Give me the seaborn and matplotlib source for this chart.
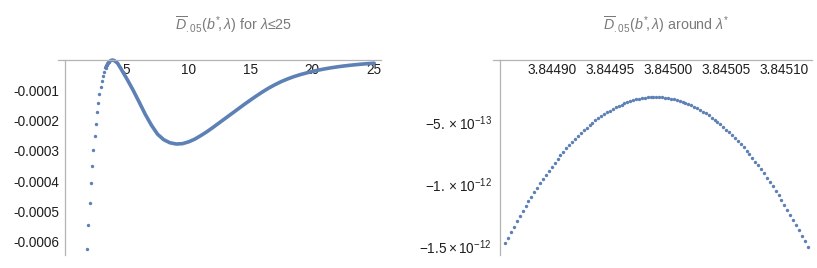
import matplotlib
matplotlib.use("Agg")
import numpy as np
import pandas as pd
import matplotlib.pyplot as plt
from matplotlib.ticker import MultipleLocator
import seaborn as sns

# left panel: sparse samples on the steep rise (step 0.1 in lambda)
lam_dots = [1.8, 1.9, 2.0, 2.1, 2.2, 2.3, 2.4, 2.5, 2.6, 2.7,
            2.8, 2.9, 3.0, 3.1, 3.2, 3.3, 3.4, 3.5, 3.6]
d_dots = [-6.22e-4, -5.43e-4, -4.71e-4, -4.06e-4, -3.48e-4, -2.97e-4, -2.51e-4,
          -2.10e-4, -1.73e-4, -1.41e-4, -1.13e-4, -0.90e-4, -0.70e-4, -0.52e-4,
          -0.38e-4, -0.26e-4, -0.17e-4, -0.10e-4, -0.05e-4]

# left panel: dense part, the points merge into a thick curve
lam_curve = [3.3, 3.5, 3.7, 3.85, 4.0, 4.25, 4.5, 4.75, 5.0, 5.5, 6.0, 6.5,
             7.0, 7.5, 8.0, 8.5, 9.0, 9.5, 10.0, 10.5, 11.0, 11.5, 12.0, 12.5,
             13.0, 13.5, 14.0, 14.5, 15.0, 15.5, 16.0, 16.5, 17.0, 17.5, 18.0,
             18.5, 19.0, 19.5, 20.0, 20.5, 21.0, 21.5, 22.0, 22.5, 23.0, 23.5,
             24.0, 24.5, 25.0]
d_curve = [-0.26e-4, -0.10e-4, -0.02e-4, 0.0, -0.02e-4, -0.10e-4, -0.26e-4,
           -0.44e-4, -0.61e-4, -0.98e-4, -1.38e-4, -1.79e-4, -2.15e-4, -2.45e-4,
           -2.63e-4, -2.73e-4, -2.77e-4, -2.76e-4, -2.70e-4, -2.61e-4, -2.49e-4,
           -2.36e-4, -2.215e-4, -2.065e-4, -1.915e-4, -1.765e-4, -1.615e-4,
           -1.465e-4, -1.32e-4, -1.18e-4, -1.045e-4, -0.92e-4, -0.81e-4, -0.71e-4,
           -0.625e-4, -0.55e-4, -0.485e-4, -0.43e-4, -0.378e-4, -0.333e-4,
           -0.293e-4, -0.258e-4, -0.227e-4, -0.20e-4, -0.176e-4, -0.155e-4,
           -0.136e-4, -0.12e-4, -0.105e-4]

# right panel: lambda = zoom_center + offset*1e-6, D in units of 1e-13
zoom_center = 3.84499
zoom_dlam_e6 = [-130.0, -127.5, -125.0, -122.5, -120.0, -117.5, -115.0, -112.5,
                -110.0, -107.5, -105.0, -102.5, -100.0, -97.5, -95.0, -92.5,
                -90.0, -87.5, -85.0, -82.5, -80.0, -77.5, -75.0, -72.5, -70.0,
                -67.5, -65.0, -62.5, -60.0, -57.5, -55.0, -52.5, -50.0, -47.5,
                -45.0, -42.5, -40.0, -37.5, -35.0, -32.5, -30.0, -27.5, -25.0,
                -22.5, -20.0, -17.5, -15.0, -12.5, -10.0, -7.5, -5.0, -2.5, 0.0,
                2.5, 5.0, 7.5, 10.0, 12.5, 15.0, 17.5, 20.0, 22.5, 25.0, 27.5,
                30.0, 32.5, 35.0, 37.5, 40.0, 42.5, 45.0, 47.5, 50.0, 52.5, 55.0,
                57.5, 60.0, 62.5, 65.0, 67.5, 70.0, 72.5, 75.0, 77.5, 80.0, 82.5,
                85.0, 87.5, 90.0, 92.5, 95.0, 97.5, 100.0, 102.5, 105.0, 107.5,
                110.0, 112.5, 115.0, 117.5, 120.0, 122.5, 125.0, 127.5, 130.0]
zoom_d_e13 = [-14.72, -14.27, -13.83, -13.39, -12.97, -12.56, -12.15, -11.75, -11.36, -10.98,
              -10.61, -10.25, -9.90, -9.55, -9.22, -8.89, -8.57, -8.26, -7.96, -7.67,
              -7.39, -7.11, -6.85, -6.59, -6.34, -6.11, -5.88, -5.65, -5.44, -5.24,
              -5.04, -4.86, -4.68, -4.51, -4.35, -4.20, -4.06, -3.92, -3.80, -3.68,
              -3.58, -3.48, -3.39, -3.31, -3.24, -3.17, -3.12, -3.08, -3.04, -3.01,
              -2.99, -2.98, -2.98, -2.99, -3.00, -3.03, -3.06, -3.11, -3.16, -3.22,
              -3.29, -3.36, -3.45, -3.55, -3.65, -3.76, -3.89, -4.02, -4.16, -4.30,
              -4.46, -4.63, -4.80, -4.99, -5.18, -5.38, -5.59, -5.81, -6.04, -6.27,
              -6.52, -6.77, -7.03, -7.30, -7.59, -7.87, -8.17, -8.48, -8.79, -9.12,
              -9.45, -9.79, -10.14, -10.50, -10.87, -11.25, -11.63, -12.03, -12.43, -12.85,
              -13.27, -13.70, -14.13, -14.58, -15.04]

left_xticks = [5, 10, 15, 20, 25]
left_yticks = [-0.0006, -0.0005, -0.0004, -0.0003, -0.0002, -0.0001]
left_ylabels = ["-0.0006", "-0.0005", "-0.0004", "-0.0003", "-0.0002", "-0.0001"]
right_xticks = [3.84490, 3.84495, 3.84500, 3.84505, 3.84510]
right_xlabels = ["3.84490", "3.84495", "3.84500", "3.84505", "3.84510"]
right_yticks = [-1.5e-12, -1e-12, -5e-13]
right_ylabels = [r"$-1.5\times10^{-12}$", r"$-1.\times10^{-12}$", r"$-5.\times10^{-13}$"]

sns.set_style("white")
plt.rcParams["font.family"] = ["Liberation Sans", "DejaVu Sans"]
plt.rcParams["mathtext.fontset"] = "custom"
plt.rcParams["mathtext.rm"] = "Liberation Sans"
plt.rcParams["mathtext.it"] = "Liberation Sans:italic"
plt.rcParams["mathtext.bf"] = "Liberation Sans:bold"

blue = "#5e81b5"
axis_gray = "#b4b4b4"
label_col = "#1e1e1e"
title_col = "#7a7a7a"

W, H = 817, 268
fig = plt.figure(figsize=(W / 100, H / 100), dpi=100)
axL = fig.add_axes([58 / W, 13 / H, 323 / W, 195 / H])
axR = fig.add_axes([493 / W, 13 / H, 319 / W, 195 / H])


def style_axes(ax):
    ax.spines["right"].set_visible(False)
    ax.spines["top"].set_visible(False)
    for s in ["left", "bottom"]:
        ax.spines[s].set_color(axis_gray)
        ax.spines[s].set_linewidth(0.9)
    ax.tick_params(which="both", direction="in", color=axis_gray,
                   labelcolor=label_col, labelsize=9.8)
    ax.tick_params(which="major", length=3.5, width=0.8)
    ax.tick_params(which="minor", length=2.0, width=0.6)
    ax.tick_params(axis="x", pad=2.5)
    ax.tick_params(axis="y", pad=4)
    ax.set_xlabel("")
    ax.set_ylabel("")


# left panel
dots_df = pd.DataFrame({"lam": lam_dots, "D": d_dots})
curve_df = pd.DataFrame({"lam": lam_curve, "D": d_curve})
sns.lineplot(data=curve_df, x="lam", y="D", ax=axL, color=blue, linewidth=2.6,
             errorbar=None, solid_capstyle="round", clip_on=False)
sns.scatterplot(data=dots_df, x="lam", y="D", ax=axL, color=blue, s=6,
                linewidth=0, clip_on=False)
axL.set_xlim(-0.55, 25.55)
axL.set_ylim(-6.43e-4, 0)
axL.spines["bottom"].set_position(("data", 0))
axL.spines["left"].set_position(("data", 0))
axL.set_xticks(left_xticks)
axL.set_xticklabels([str(t) for t in left_xticks])
axL.set_yticks(left_yticks)
axL.set_yticklabels(left_ylabels)
axL.xaxis.set_minor_locator(MultipleLocator(1))
axL.yaxis.set_minor_locator(MultipleLocator(0.00002))
style_axes(axL)

# right panel
zoom_df = pd.DataFrame({
    "lam": [zoom_center + v * 1e-6 for v in zoom_dlam_e6],
    "D": [v * 1e-13 for v in zoom_d_e13],
})
sns.scatterplot(data=zoom_df, x="lam", y="D", ax=axR, color=blue, s=6,
                linewidth=0, clip_on=False)
axR.set_xlim(3.8448495, 3.8451238)
axR.set_ylim(-1.5675e-12, 0)
axR.spines["bottom"].set_position(("data", 0))
axR.spines["left"].set_position(("data", 3.8448556))
axR.set_xticks(right_xticks)
axR.set_xticklabels(right_xlabels)
axR.set_yticks(right_yticks)
axR.set_yticklabels(right_ylabels)
axR.xaxis.set_minor_locator(MultipleLocator(1e-5))
axR.yaxis.set_minor_locator(MultipleLocator(1e-13))
style_axes(axR)
axR.tick_params(axis="y", pad=6)

fig.text(233.5 / W, 1 - 30 / H, r"$\overline{D}_{.05}(b^{*}\!,\lambda)$ for $\lambda$≤25",
         ha="center", va="baseline", fontsize=10.3, color=title_col)
fig.text(666.5 / W, 1 - 30 / H, r"$\overline{D}_{.05}(b^{*}\!,\lambda)$ around $\lambda^{*}$",
         ha="center", va="baseline", fontsize=10.3, color=title_col)

fig.savefig("out.png", dpi=100)
